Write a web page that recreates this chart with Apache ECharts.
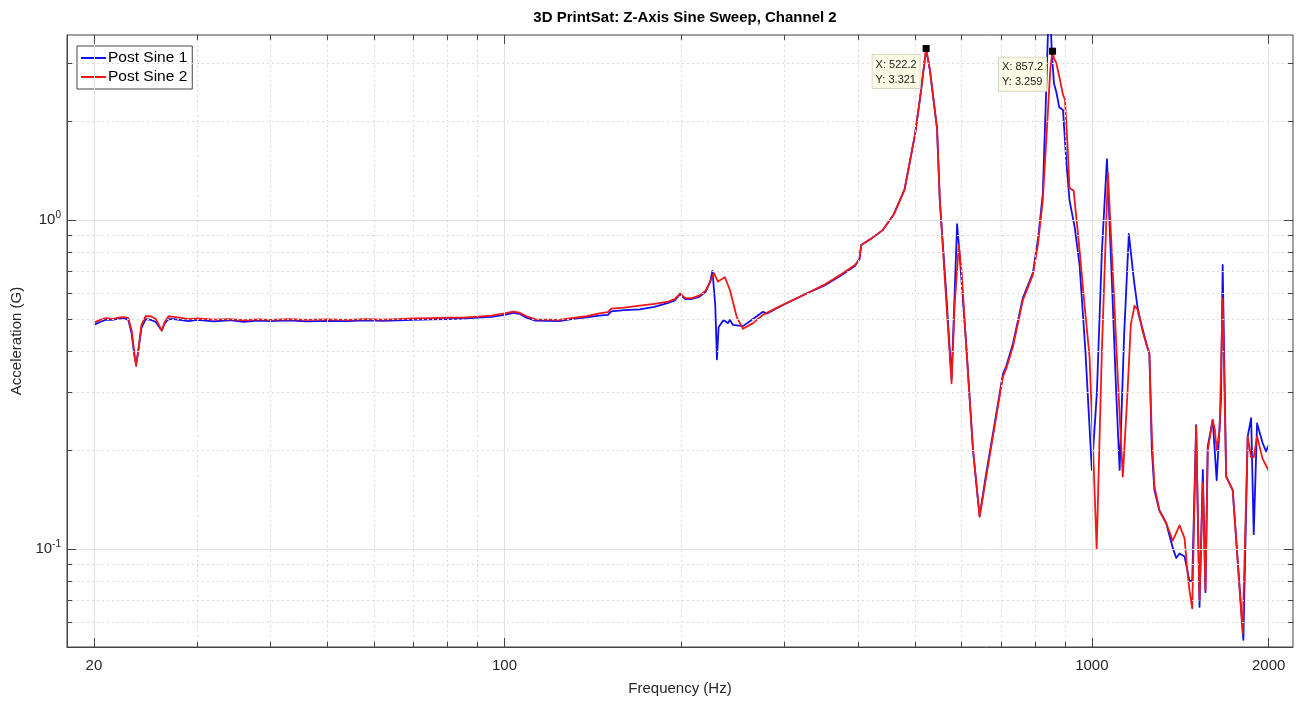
<!DOCTYPE html>
<html>
<head>
<meta charset="utf-8">
<script src="https://cdn.jsdelivr.net/npm/echarts@6/dist/echarts.min.js"></script>
<style>html,body{margin:0;padding:0;background:#fff}#chart{width:1308px;height:704px}</style>
</head>
<body>
<div id="chart"></div>
<script>
// Post Sine 1 (blue)
var sine1Freq = [20, 20.5, 21, 21.5, 22, 22.5, 22.9, 23.2, 23.45, 23.6, 23.8, 24.1, 24.5, 25, 25.5, 25.8, 26.1, 26.4, 26.8, 27.3, 28, 29, 30, 32, 34, 36, 38, 40, 43, 46, 50, 54, 58, 62, 66, 70, 75, 80, 85, 90, 95, 100, 103.5, 106, 109, 113, 118, 124, 130, 138, 145, 150, 152, 160, 170, 180, 190, 195, 199, 203, 208, 215, 220, 224, 226, 228.5, 230, 231.5, 236, 240, 242, 245, 254.7, 264.9, 275.5, 280, 297.9, 326.9, 350, 372.4, 395, 402, 405, 420, 440, 460, 480, 500, 510, 522.2, 530, 545, 551, 565, 577, 583, 589.6, 595, 611.6, 627.6, 644, 661, 683, 705.6, 715, 733.8, 763, 793.5, 810, 825, 835, 843, 849, 855, 862, 870, 880, 893, 905, 916, 935, 953, 975, 1000, 1020, 1040, 1061, 1080, 1100, 1115, 1135, 1156, 1180, 1200, 1239, 1253, 1265, 1278, 1303, 1338, 1373, 1392, 1410, 1438, 1466, 1482, 1505, 1525, 1545, 1561, 1575, 1606, 1631, 1659, 1670, 1693, 1737, 1811, 1842, 1867, 1886, 1911, 1953, 1980, 2000];
var sine1Acc = [0.48, 0.49, 0.498, 0.497, 0.502, 0.503, 0.497, 0.45, 0.385, 0.365, 0.4, 0.47, 0.5, 0.497, 0.49, 0.475, 0.462, 0.485, 0.5, 0.5, 0.497, 0.493, 0.497, 0.492, 0.496, 0.49, 0.495, 0.493, 0.496, 0.492, 0.494, 0.493, 0.496, 0.494, 0.496, 0.497, 0.499, 0.5, 0.502, 0.505, 0.508, 0.515, 0.522, 0.519, 0.505, 0.495, 0.494, 0.493, 0.5, 0.506, 0.512, 0.515, 0.528, 0.532, 0.535, 0.545, 0.56, 0.57, 0.595, 0.575, 0.575, 0.585, 0.605, 0.65, 0.7, 0.55, 0.377, 0.472, 0.497, 0.486, 0.497, 0.48, 0.476, 0.5, 0.526, 0.52, 0.552, 0.598, 0.632, 0.675, 0.725, 0.76, 0.84, 0.875, 0.93, 1.04, 1.24, 1.82, 2.35, 3.3, 2.86, 1.9, 1.15, 0.6, 0.33, 0.55, 0.972, 0.8, 0.41, 0.2, 0.126, 0.17, 0.24, 0.34, 0.36, 0.42, 0.58, 0.69, 0.88, 1.2, 2.3, 4.0, 4.3, 3.2, 2.6, 2.45, 2.2, 2.16, 1.5, 1.15, 0.95, 0.73, 0.4, 0.174, 0.3, 0.8, 1.53, 0.7, 0.3, 0.174, 0.45, 0.907, 0.65, 0.52, 0.42, 0.39, 0.2, 0.151, 0.131, 0.12, 0.101, 0.094, 0.097, 0.095, 0.08, 0.08, 0.238, 0.0667, 0.174, 0.074, 0.205, 0.247, 0.162, 0.284, 0.73, 0.166, 0.151, 0.053, 0.22, 0.25, 0.111, 0.241, 0.21, 0.198, 0.207];

// Post Sine 2 (red)
var sine2Freq = [20, 20.5, 21, 21.5, 22, 22.5, 22.9, 23.2, 23.45, 23.6, 23.8, 24.1, 24.5, 25, 25.5, 25.8, 26.1, 26.4, 26.8, 27.3, 28, 29, 30, 32, 34, 36, 38, 40, 43, 46, 50, 54, 58, 62, 66, 70, 75, 80, 85, 90, 95, 100, 103.5, 106, 109, 113, 118, 124, 130, 138, 145, 150, 152, 160, 170, 180, 190, 195, 199, 203, 208, 215, 220, 224, 227.3, 230.9, 237.3, 242, 248.5, 254.7, 264.9, 275.5, 290, 297.9, 326.9, 350, 372.4, 395, 402, 405, 420, 440, 460, 480, 500, 510, 522.2, 530, 545, 551, 565, 577, 584, 593.5, 600, 611.6, 627.6, 644, 661, 683, 705.6, 715, 733.8, 763, 793.5, 810, 825, 840, 850, 857.2, 862, 870, 880, 893, 900, 910, 916, 931, 953, 970, 991, 1005, 1019, 1040, 1065, 1090, 1110, 1129, 1150, 1165, 1182, 1200, 1220, 1239, 1253, 1265, 1278, 1303, 1338, 1373, 1410, 1438, 1455, 1466, 1482, 1505, 1525, 1545, 1561, 1575, 1606, 1620, 1631, 1650, 1670, 1693, 1737, 1806, 1842, 1867, 1886, 1911, 1953, 2000];
var sine2Acc = [0.487, 0.497, 0.503, 0.5, 0.505, 0.507, 0.503, 0.46, 0.39, 0.36, 0.4, 0.48, 0.51, 0.51, 0.5, 0.48, 0.461, 0.49, 0.51, 0.508, 0.505, 0.5, 0.502, 0.498, 0.5, 0.496, 0.499, 0.497, 0.5, 0.497, 0.499, 0.497, 0.5, 0.498, 0.5, 0.502, 0.503, 0.505, 0.505, 0.509, 0.512, 0.52, 0.527, 0.523, 0.51, 0.499, 0.498, 0.497, 0.503, 0.51, 0.52, 0.525, 0.538, 0.542, 0.549, 0.556, 0.565, 0.575, 0.598, 0.58, 0.578, 0.59, 0.61, 0.65, 0.69, 0.65, 0.67, 0.613, 0.508, 0.467, 0.486, 0.515, 0.54, 0.552, 0.598, 0.635, 0.68, 0.73, 0.76, 0.84, 0.875, 0.93, 1.04, 1.24, 1.82, 2.35, 3.321, 2.86, 1.9, 1.15, 0.57, 0.319, 0.55, 0.839, 0.7, 0.403, 0.2, 0.1254, 0.166, 0.236, 0.334, 0.354, 0.412, 0.571, 0.681, 0.85, 1.15, 2.0, 2.9, 3.259, 3.1, 3.0, 2.73, 2.4, 2.32, 1.63, 1.25, 1.23, 0.81, 0.57, 0.384, 0.2, 0.1, 0.4, 1.387, 0.6, 0.3, 0.166, 0.3, 0.48, 0.549, 0.53, 0.46, 0.417, 0.394, 0.22, 0.155, 0.131, 0.12, 0.106, 0.118, 0.108, 0.085, 0.075, 0.066, 0.236, 0.07, 0.159, 0.075, 0.2, 0.247, 0.23, 0.2, 0.23, 0.578, 0.166, 0.151, 0.0556, 0.22, 0.19, 0.19, 0.22, 0.188, 0.173];

// axis ticks / grid
var xLabels = [20, 100, 1000, 2000];
var xMinor = [30, 40, 50, 60, 70, 80, 90, 200, 300, 400, 500, 600, 700, 800, 900];
var yMajor = [0.1, 1];
var yMinor = [0.06, 0.07, 0.08, 0.09, 0.2, 0.3, 0.4, 0.5, 0.6, 0.7, 0.8, 0.9, 2, 3];

// data tips
var tips = [[522.2, 3.321], [857.2, 3.259]];

var xMin = 18, xMax = 2200, yMin = 0.0504, yMax = 3.65;

function pairs(f, a) {
    return f.map(function (v, i) { return [v, a[i]]; });
}

var majorLines = [], minorLines = [], tickLines = [];
xLabels.forEach(function (v) { majorLines.push({xAxis: v}); });
yMajor.forEach(function (v) { majorLines.push({yAxis: v}); });
xMinor.forEach(function (v) { minorLines.push({xAxis: v}); });
yMinor.forEach(function (v) { minorLines.push({yAxis: v}); });

// ticks pointing inward, length given as ratio on the log scale
function xTick(v, r) {
    tickLines.push([{coord: [v, yMin]}, {coord: [v, yMin * r]}]);
    tickLines.push([{coord: [v, yMax / r]}, {coord: [v, yMax]}]);
}
function yTick(v, r) {
    tickLines.push([{coord: [xMin, v]}, {coord: [xMin * r, v]}]);
    tickLines.push([{coord: [xMax / r, v]}, {coord: [xMax, v]}]);
}
xLabels.forEach(function (v) { xTick(v, 1.065); });
xMinor.forEach(function (v) { xTick(v, 1.036); });
yMajor.forEach(function (v) { yTick(v, 1.036); });
yMinor.forEach(function (v) { yTick(v, 1.02); });

function markerSeries(lines, style) {
    return {
        type: 'line',
        data: [],
        silent: true,
        markLine: {
            silent: true,
            symbol: 'none',
            animation: false,
            label: {show: false},
            lineStyle: style,
            emphasis: {disabled: true},
            data: lines
        }
    };
}

var chart = echarts.init(document.getElementById('chart'));
chart.setOption({
    animation: false,
    backgroundColor: '#fff',
    textStyle: {fontFamily: 'Liberation Sans, Arial, sans-serif'},
    title: {
        text: '3D PrintSat: Z-Axis Sine Sweep, Channel 2',
        left: 680,
        textAlign: 'center',
        top: 5,
        textStyle: {fontSize: 15, fontWeight: 'bold', color: '#000'}
    },
    legend: {
        data: ['Post Sine 1', 'Post Sine 2'],
        orient: 'vertical',
        left: 77,
        top: 46,
        icon: 'path://M0,0H25V2H0Z',
        itemWidth: 25,
        itemHeight: 2,
        itemGap: 3,
        itemStyle: {borderWidth: 0},
        lineStyle: {width: 0},
        padding: [4, 5, 4, 4],
        backgroundColor: '#fff',
        borderColor: '#444',
        borderWidth: 1,
        borderRadius: 0,
        textStyle: {fontSize: 15.5, color: '#000', padding: [0, 0, 0, -3]}
    },
    grid: {
        left: 67,
        right: 15,
        top: 35,
        bottom: 57,
        show: true,
        borderColor: '#444',
        borderWidth: 1
    },
    xAxis: {
        type: 'log',
        logBase: 10,
        min: xMin,
        max: xMax,
        name: 'Frequency (Hz)',
        nameLocation: 'middle',
        nameGap: 34,
        nameTextStyle: {fontSize: 15, color: '#262626'},
        axisLine: {show: true, lineStyle: {color: '#444'}},
        axisTick: {show: false},
        splitLine: {show: false},
        axisLabel: {
            customValues: xLabels,
            formatter: function (v) { return String(Math.round(v)); },
            fontSize: 15,
            color: '#262626',
            margin: 11
        }
    },
    yAxis: {
        type: 'log',
        logBase: 10,
        min: yMin,
        max: yMax,
        name: 'Acceleration (G)',
        nameLocation: 'middle',
        nameGap: 40,
        nameTextStyle: {fontSize: 15, color: '#262626'},
        axisLine: {show: true, lineStyle: {color: '#444'}},
        axisTick: {show: false},
        splitLine: {show: false},
        axisLabel: {
            showMinLabel: false,
            showMaxLabel: false,
            margin: 6,
            formatter: function (v) {
                return '{b|10}{s|' + Math.round(Math.log10(v)) + '}';
            },
            rich: {
                b: {fontSize: 15, color: '#262626'},
                s: {fontSize: 10, color: '#262626', verticalAlign: 'bottom', padding: [0, 0, 9, 0]}
            }
        }
    },
    series: [
        markerSeries(majorLines, {type: 'solid', color: '#e2e2e2', width: 1}),
        markerSeries(minorLines, {type: [2, 3], color: '#dadada', width: 1}),
        markerSeries(tickLines, {type: 'solid', color: '#444', width: 1}),
        {
            name: 'Post Sine 1',
            type: 'line',
            data: pairs(sine1Freq, sine1Acc),
            showSymbol: false,
            symbol: 'none',
            color: '#1010f0',
            lineStyle: {width: 1.8, color: '#1010f0', join: 'round'}
        },
        {
            name: 'Post Sine 2',
            type: 'line',
            data: pairs(sine2Freq, sine2Acc),
            showSymbol: false,
            symbol: 'none',
            color: '#f01818',
            lineStyle: {width: 1.8, color: '#f01818', join: 'round'},
            markPoint: {
                symbol: 'rect',
                symbolSize: 7,
                itemStyle: {color: '#000'},
                label: {
                    show: true,
                    position: [-50, 10],
                    align: 'left',
                    verticalAlign: 'top',
                    formatter: function (p) {
                        return 'X: ' + p.data.coord[0] + '\nY: ' + p.data.coord[1];
                    },
                    fontSize: 11,
                    lineHeight: 15,
                    color: '#222',
                    backgroundColor: '#fbfbe6',
                    borderColor: '#d8d8c0',
                    borderWidth: 1,
                    padding: [2, 3, 1, 3]
                },
                data: tips.map(function (t) { return {coord: t}; })
            }
        }
    ]
});
</script>
</body>
</html>
